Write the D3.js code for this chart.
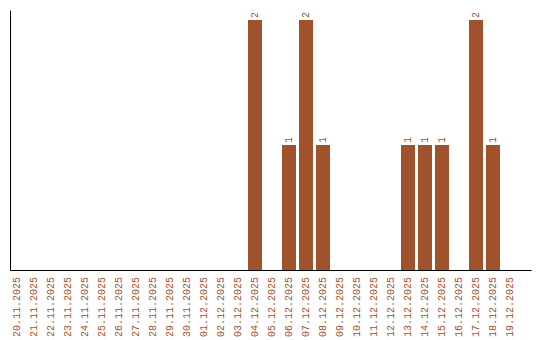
<!DOCTYPE html>
<html>
<head>
<meta charset="utf-8">
<script src="https://cdn.jsdelivr.net/npm/d3@7"></script>
<style>
  body { margin: 0; background: #fff; }
  text { font-family: "Liberation Mono", "DejaVu Sans Mono", monospace; font-size: 10px; fill: #a0522d; }
</style>
</head>
<body>
<div id="chart"></div>
<script>
// days shown on the x axis
const days = ["20.11.2025", "21.11.2025", "22.11.2025", "23.11.2025", "24.11.2025",
  "25.11.2025", "26.11.2025", "27.11.2025", "28.11.2025", "29.11.2025",
  "30.11.2025", "01.12.2025", "02.12.2025", "03.12.2025", "04.12.2025",
  "05.12.2025", "06.12.2025", "07.12.2025", "08.12.2025", "09.12.2025",
  "10.12.2025", "11.12.2025", "12.12.2025", "13.12.2025", "14.12.2025",
  "15.12.2025", "16.12.2025", "17.12.2025", "18.12.2025", "19.12.2025"];
// count per day
const counts = [0, 0, 0, 0, 0, 0, 0, 0, 0, 0,
  0, 0, 0, 0, 2, 0, 1, 2, 1, 0,
  0, 0, 0, 1, 1, 1, 0, 2, 1, 0];

const width = 540, height = 340;
const barColor = "#a0522d";

const data = days.map((d, i) => ({ day: d, count: counts[i] }));

const svg = d3.select("#chart")
  .append("svg")
  .attr("width", width)
  .attr("height", height);

const x = d3.scaleBand()
  .domain(days)
  .range([10, 531])
  .paddingInner(3 / 17)
  .paddingOuter(0.412)
  .align(0);

const y = d3.scaleLinear()
  .domain([0, 2.08])
  .range([270, 10]);

svg.selectAll("rect.bar")
  .data(data.filter(d => d.count > 0))
  .enter()
  .append("rect")
  .attr("class", "bar")
  .attr("x", d => x(d.day))
  .attr("y", d => y(d.count))
  .attr("width", x.bandwidth())
  .attr("height", d => y(0) - y(d.count))
  .attr("fill", barColor);

// value labels, rotated, above each bar
svg.selectAll("text.value")
  .data(data.filter(d => d.count > 0))
  .enter()
  .append("text")
  .attr("class", "value")
  .attr("transform", d => `translate(${x(d.day) + x.bandwidth() / 2},${y(d.count) - 2}) rotate(-90)`)
  .attr("dy", "0.35em")
  .text(d => d.count);

// axes
svg.append("g")
  .attr("transform", "translate(10,0)")
  .call(d3.axisLeft(y).tickValues([]).tickSize(0))
  .select(".domain").attr("stroke", "#000");

const xAxis = svg.append("g")
  .attr("transform", "translate(0,270)")
  .call(d3.axisBottom(x).tickSize(0).tickSizeOuter(0));

xAxis.select(".domain").attr("stroke", "#000");
xAxis.selectAll("text")
  .attr("y", 0)
  .attr("x", 0)
  .attr("dy", "0.35em")
  .attr("text-anchor", "end")
  .attr("transform", "translate(0,7) rotate(-90)");
xAxis.attr("font-family", null).attr("font-size", null);
</script>
</body>
</html>
